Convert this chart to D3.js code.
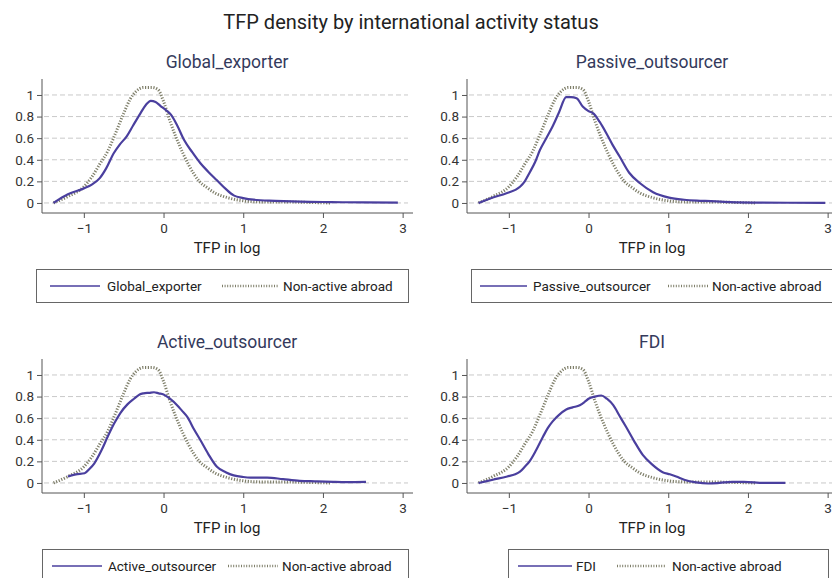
<!DOCTYPE html>
<html><head><meta charset="utf-8">
<script src="https://cdn.jsdelivr.net/npm/d3@7/dist/d3.min.js"></script>
<style>
html,body{margin:0;padding:0;background:#fff;}
svg{display:block;font-family:Roboto,"DejaVu Sans",sans-serif;}
</style></head>
<body><svg id="c" width="832" height="578"></svg>
<script>
const chartTitle = "TFP density by international activity status";
const panelNames = ["Global_exporter","Passive_outsourcer","Active_outsourcer","FDI"];
const otherName = "Non-active abroad";
const xLabel = "TFP in log";
const xTicks = [-1,0,1,2,3];
const yTicks = [0,0.2,0.4,0.6,0.8,1];
const yTickLabels = ["0","0.2","0.4","0.6","0.8","1"];

const nonActive = [[-1.38,0],[-1.2,0.06],[-1.0,0.15],[-0.9,0.24],[-0.8,0.36],[-0.7,0.48],[-0.6,0.65],[-0.5,0.83],[-0.42,0.96],[-0.35,1.03],[-0.25,1.07],[-0.15,1.07],[-0.07,1.05],[0.0,0.94],[0.08,0.76],[0.15,0.62],[0.25,0.45],[0.38,0.27],[0.45,0.2],[0.55,0.14],[0.65,0.09],[0.8,0.05],[1.0,0.02],[1.2,0.01],[1.5,0.01],[1.8,0.005],[2.1,0.0]];

const globalExporter = [[-1.38,0.0],[-1.2,0.08],[-1.0,0.135],[-0.9,0.17],[-0.8,0.23],[-0.72,0.32],[-0.625,0.46],[-0.55,0.54],[-0.46,0.62],[-0.38,0.72],[-0.29,0.83],[-0.22,0.91],[-0.16,0.945],[-0.1,0.935],[-0.04,0.9],[0.03,0.86],[0.09,0.82],[0.17,0.72],[0.26,0.58],[0.36,0.47],[0.46,0.37],[0.56,0.29],[0.67,0.21],[0.78,0.13],[0.88,0.07],[1.0,0.045],[1.13,0.03],[1.4,0.02],[1.72,0.012],[2.1,0.008],[2.5,0.005],[2.94,0.003]];

const passiveOutsourcer = [[-1.38,0.0],[-1.2,0.05],[-1.03,0.09],[-0.86,0.15],[-0.8,0.2],[-0.74,0.28],[-0.67,0.38],[-0.61,0.49],[-0.53,0.6],[-0.45,0.71],[-0.37,0.84],[-0.28,0.98],[-0.22,0.98],[-0.15,0.97],[-0.07,0.89],[0.0,0.85],[0.06,0.83],[0.14,0.75],[0.22,0.65],[0.3,0.54],[0.39,0.43],[0.51,0.28],[0.65,0.18],[0.81,0.1],[1.01,0.05],[1.2,0.03],[1.43,0.02],[1.7,0.01],[2.05,0.004],[2.5,0.002],[2.97,0.0]];

const activeOutsourcer = [[-1.2,0.06],[-1.1,0.08],[-0.99,0.09],[-0.93,0.13],[-0.87,0.18],[-0.78,0.3],[-0.7,0.43],[-0.62,0.55],[-0.54,0.65],[-0.45,0.73],[-0.37,0.78],[-0.3,0.82],[-0.25,0.83],[-0.18,0.835],[-0.12,0.84],[-0.06,0.83],[0.0,0.82],[0.08,0.78],[0.17,0.72],[0.23,0.67],[0.3,0.61],[0.38,0.5],[0.46,0.4],[0.56,0.27],[0.67,0.15],[0.78,0.1],[0.88,0.07],[1.0,0.055],[1.09,0.05],[1.2,0.05],[1.3,0.05],[1.5,0.035],[1.71,0.02],[1.9,0.015],[2.13,0.01],[2.3,0.008],[2.54,0.01]];

const fdi = [[-1.38,0.0],[-1.2,0.03],[-1.02,0.06],[-0.92,0.08],[-0.86,0.105],[-0.8,0.15],[-0.74,0.2],[-0.66,0.3],[-0.57,0.43],[-0.51,0.51],[-0.45,0.57],[-0.37,0.63],[-0.28,0.68],[-0.2,0.7],[-0.11,0.72],[-0.05,0.75],[0.0,0.78],[0.08,0.8],[0.16,0.81],[0.23,0.78],[0.31,0.72],[0.39,0.62],[0.47,0.52],[0.57,0.39],[0.68,0.26],[0.8,0.17],[0.93,0.1],[1.02,0.08],[1.1,0.06],[1.2,0.03],[1.35,0.005],[1.5,-0.005],[1.64,0.0],[1.8,0.01],[1.95,0.01],[2.2,0.0],[2.47,0.0]];

const panelSeries = [globalExporter, passiveOutsourcer, activeOutsourcer, fdi];

// layout (positions only)
const panelPos = [[42,79],[467,79],[42,359],[467,359]];
const legendLayout = [
  {box:[36,408], k1:[50,100], t1:107, k2:[222,278], t2:283},
  {box:[471,860], k1:[480,527], t1:533, k2:[668,708], t2:712},
  {box:[42,408], k1:[52,102], t1:108, k2:[228,278], t2:282},
  {box:[508,828], k1:[518,572], t1:576, k2:[617,665], t2:672}
];
const solidColor = "#4a3f9e";
const dotColor = "#7f7f6a";

const svg = d3.select("#c");
svg.append("rect").attr("width",832).attr("height",578).attr("fill","#fff");

svg.append("text").attr("x",411).attr("y",29).attr("text-anchor","middle")
  .attr("font-size",20).attr("fill","#222").text(chartTitle);

const x = d3.scaleLinear().domain([-1.525,3.13]).range([0,371]);
const y = d3.scaleLinear().domain([-0.093,1.148]).range([134,0]);
const line = d3.line().x(d=>x(d[0])).y(d=>y(d[1])).curve(d3.curveMonotoneX);

panelNames.forEach((name,i)=>{
  const [px,py] = panelPos[i];
  const g = svg.append("g").attr("transform",`translate(${px},${py})`);
  g.append("text").attr("x",185).attr("y",-11).attr("text-anchor","middle")
    .attr("font-size",17.5).attr("fill","#343a5c").text(name);
  g.selectAll(".grid").data(yTicks).enter().append("line")
    .attr("x1",2).attr("x2",366).attr("y1",d=>y(d)).attr("y2",d=>y(d))
    .attr("stroke","#c9c9c9").attr("stroke-width",1).attr("stroke-dasharray","5,3");
  const yAxis = d3.axisLeft(y).tickValues(yTicks).tickSize(5).tickPadding(3)
    .tickFormat((d,j)=>yTickLabels[j]);
  const ya = g.append("g").call(yAxis);
  ya.select(".domain").attr("d","M0,0V134").attr("stroke","#555");
  ya.selectAll(".tick line").attr("stroke","#555");
  ya.selectAll("text").attr("font-size",13.5).attr("fill","#333").attr("font-family","Roboto,sans-serif");
  const xAxis = d3.axisBottom(x).tickValues(xTicks).tickSize(5).tickPadding(5)
    .tickFormat(d=> d<0 ? "\u2212"+Math.abs(d) : String(d));
  const xa = g.append("g").attr("transform","translate(0,134)").call(xAxis);
  xa.select(".domain").attr("d","M0,0H371").attr("stroke","#555");
  xa.selectAll(".tick line").attr("stroke","#555");
  xa.selectAll("text").attr("font-size",13.5).attr("fill","#333").attr("font-family","Roboto,sans-serif");
  g.append("text").attr("x",185).attr("y",174).attr("text-anchor","middle")
    .attr("font-size",15).attr("fill","#222").text(xLabel);
  g.append("path").datum(nonActive).attr("d",line).attr("fill","none")
    .attr("stroke",dotColor).attr("stroke-width",3).attr("stroke-dasharray","1.2,1.6");
  g.append("path").datum(panelSeries[i]).attr("d",line).attr("fill","none")
    .attr("stroke",solidColor).attr("stroke-width",2.2);
  const L = legendLayout[i];
  const lg = svg.append("g").attr("transform",`translate(0,${py+190})`);
  lg.append("rect").attr("x",L.box[0]+0.5).attr("y",0.5).attr("width",L.box[1]-L.box[0]).attr("height",33)
    .attr("fill","#fff").attr("stroke","#666").attr("stroke-width",1);
  lg.append("line").attr("x1",L.k1[0]).attr("x2",L.k1[1]).attr("y1",17).attr("y2",17)
    .attr("stroke",solidColor).attr("stroke-width",1.6);
  lg.append("text").attr("x",L.t1).attr("y",22).attr("font-size",13.5).attr("fill","#222").text(name);
  lg.append("line").attr("x1",L.k2[0]).attr("x2",L.k2[1]).attr("y1",17).attr("y2",17)
    .attr("stroke",dotColor).attr("stroke-width",2.4).attr("stroke-dasharray","1,1.6");
  lg.append("text").attr("x",L.t2).attr("y",22).attr("font-size",13.5).attr("fill","#222").text(otherName);
});
</script></body></html>
